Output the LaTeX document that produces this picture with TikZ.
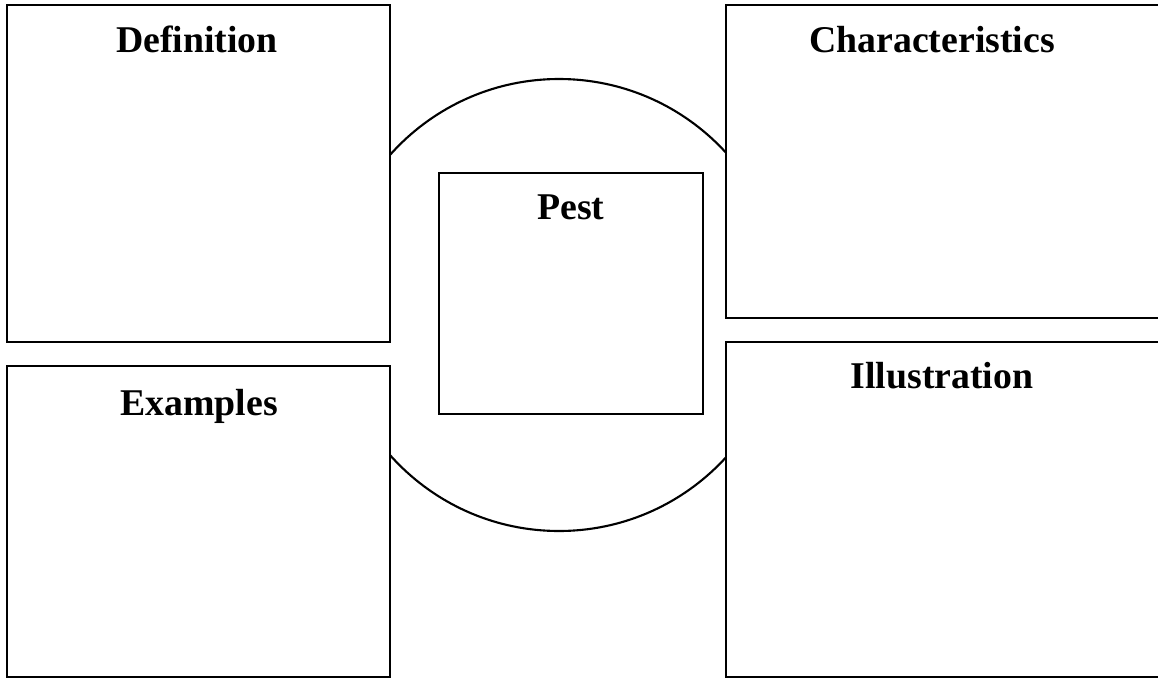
\documentclass[tikz,border=0pt]{standalone}
\usepackage{fontspec}
\setmainfont{Liberation Serif}
\usepackage{tikz}
\tikzset{
	frame line/.style={line width=1.2pt}
}
\tikzstyle{panel}=[frame line, draw=black, fill=white]
\tikzstyle{heading}=[anchor=base, inner sep=0pt, font=\fontsize{21.5}{26}\selectfont\bfseries]

\begin{document}
\begin{tikzpicture}[x=0.02cm, y=-0.02cm]
	\useasboundingbox (0,0) rectangle (1158,679);
	\clip (0,0) rectangle (1158,679);
%	circle shows only between the two columns
	\begin{scope}
		\clip (390,0) rectangle (726,679);
		\draw[frame line] (559,305) circle (226);
	\end{scope}
%
	\filldraw[panel] (7,5) rectangle (390,342);
	\filldraw[panel] (7,366) rectangle (390,677);
	\filldraw[panel] (726,5) rectangle (1175,318);
	\filldraw[panel] (726,342) rectangle (1175,677);
	\filldraw[panel] (439,173) rectangle (703,414);
%
	\node[heading] (definition) at (197,52) {Definition};
	\node[heading] (examples) at (199,415) {Examples};
	\node[heading] (characteristics) at (932,53) {Characteristics};
	\node[heading] (illustration) at (942,388) {Illustration};
	\node[heading] (pest) at (571,219) {Pest};
\end{tikzpicture}
\end{document}
